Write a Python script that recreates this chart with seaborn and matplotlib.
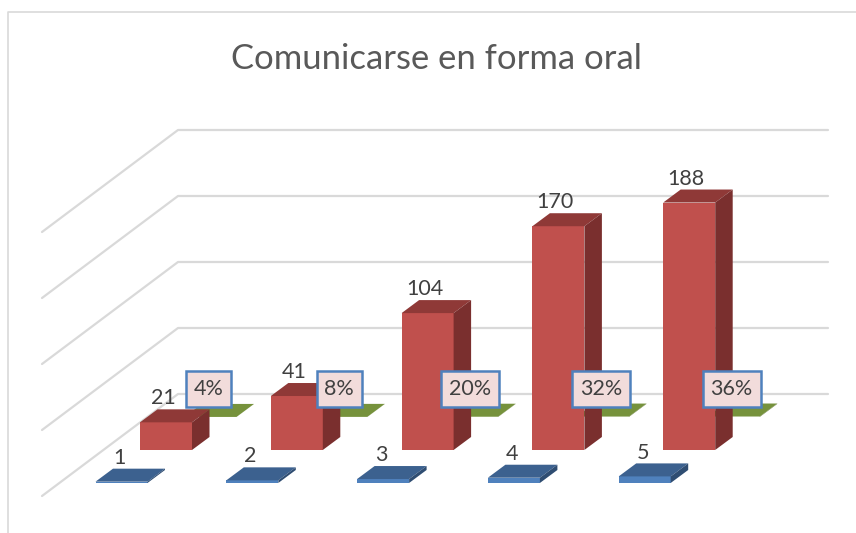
import matplotlib
matplotlib.use("Agg")
import matplotlib.pyplot as plt
import numpy as np
import seaborn as sns
from matplotlib.lines import Line2D
from matplotlib.patches import Polygon
from matplotlib.transforms import Affine2D, IdentityTransform

# datos
TITLE = "Comunicarse en forma oral"
CATEGORIES = ["1", "2", "3", "4", "5"]
SCALE_VALUES = [1, 2, 3, 4, 5]
COUNTS = [21, 41, 104, 170, 188]
SHARES = [0.04, 0.08, 0.20, 0.32, 0.36]
GRID_TICKS = [0, 50, 100, 150, 200]

sns.set_theme(style="white")
plt.rcParams["font.family"] = ["Lato", "DejaVu Sans"]

W, H = 856, 533
DPI = 100
TEXT = "#404040"
GRID = "#D9D9D9"
STEP = 130.8
BAR_W = 52 / STEP
DEPTH = (17.5, 13)       # profundidad de cada barra, en px
ROW = (44.5, 33)         # separacion entre series, en px
PX_PER_UNIT = 1.316

fig = plt.figure(figsize=(W / DPI, (H + 0.1) / DPI), dpi=DPI)
ax = fig.add_axes([0, 0, 1, 1])


def draw_series(values, row, colors, zorder):
    """Barra frontal con seaborn, desplazada segun la fila de profundidad"""
    n0 = len(ax.patches)
    sns.barplot(x=CATEGORIES, y=values, color=colors[0], saturation=1, width=BAR_W, ax=ax)
    bars = ax.patches[n0:]
    shift = Affine2D().translate(ROW[0] * row, ROW[1] * row)
    for b in bars:
        b.set_transform(ax.transData + shift)
        b.set_edgecolor("none")
        b.set_zorder(zorder)
    return bars, row, colors, zorder


green = draw_series(SHARES, 1, ("#9BBB59", "#76923C", "#5F7530"), 3)
red = draw_series(COUNTS, 0, ("#C0504D", "#8F3937", "#7A2F2E"), 4)
blue = draw_series(SCALE_VALUES, -1, ("#4F81BD", "#3C618F", "#2F4D72"), 5)

# escala: categoria 0 centrada en x=166 px, valor 0 en y=450 px
ax.set_xlim((0 - 166) / STEP, (W - 166) / STEP)
ax.set_ylim(-(H - 450) / PX_PER_UNIT, 450 / PX_PER_UNIT)
ax.set_axis_off()
fig.canvas.draw()


def bar_corners(bar):
    """Esquinas de la cara frontal en px de pantalla"""
    verts = bar.get_transform().transform(bar.get_path().vertices)
    return verts[:, 0].min(), verts[:, 0].max(), verts[:, 1].min(), verts[:, 1].max()


def add_faces(series):
    bars, row, colors, zorder = series
    dx, dy = DEPTH
    for b in bars:
        x0, x1, y0, y1 = bar_corners(b)
        top = [(x0, y1), (x1, y1), (x1 + dx, y1 + dy), (x0 + dx, y1 + dy)]
        side = [(x1, y0), (x1 + dx, y0 + dy), (x1 + dx, y1 + dy), (x1, y1)]
        ax.add_patch(Polygon(top, closed=True, fc=colors[1], ec="none",
                             transform=IdentityTransform(), zorder=zorder))
        ax.add_patch(Polygon(side, closed=True, fc=colors[2], ec="none",
                             transform=IdentityTransform(), zorder=zorder))


for s in (green, red, blue):
    add_faces(s)

# rejilla de la pared y el suelo
WALL_LEFT, WALL_RIGHT, FLOOR_LEFT = 178, 828, 42
WALL_BASE = H - 394
WALL_PX = 1.32
for v in GRID_TICKS:
    y = WALL_BASE + v * WALL_PX
    y_front = y - (WALL_LEFT - FLOOR_LEFT) * 0.75
    ax.add_line(Line2D([FLOOR_LEFT, WALL_LEFT, WALL_RIGHT], [y_front, y, y],
                       color=GRID, lw=1.6, transform=IdentityTransform(), zorder=1))

# marco del grafico
fig.add_artist(Line2D([8, 8, W], [0, H - 12, H - 12], color=GRID, lw=1.2,
                      transform=IdentityTransform()))

# etiquetas
for b, v in zip(red[0], COUNTS):
    x0, x1, y0, y1 = bar_corners(b)
    ax.text((x0 + x1) / 2 - 3, y1 + 24, str(v), ha="center", va="center", fontsize=15.5,
            color=TEXT, transform=IdentityTransform(), zorder=10)

for b, v in zip(blue[0], SCALE_VALUES):
    x0, x1, y0, y1 = bar_corners(b)
    ax.text((x0 + x1) / 2 - 2, y1 + 24, str(v), ha="center", va="center", fontsize=15.5,
            color=TEXT, transform=IdentityTransform(), zorder=10)

for b, v in zip(green[0], SHARES):
    x0, x1, y0, y1 = bar_corners(b)
    ax.text((x0 + x1) / 2 - 2, y0 + 28, f"{v:.0%}", ha="center", va="center", fontsize=15.5,
            color=TEXT, transform=IdentityTransform(), zorder=12,
            bbox=dict(boxstyle="square,pad=0.36", fc="#F2DCDB", ec="#4F81BD", lw=1.8))

ax.text(436, H - 59, TITLE, ha="center", va="center", fontsize=24.9, color="#595959",
        transform=IdentityTransform(), zorder=10)

fig.savefig("out.png", dpi=DPI, facecolor="white")
plt.close(fig)
